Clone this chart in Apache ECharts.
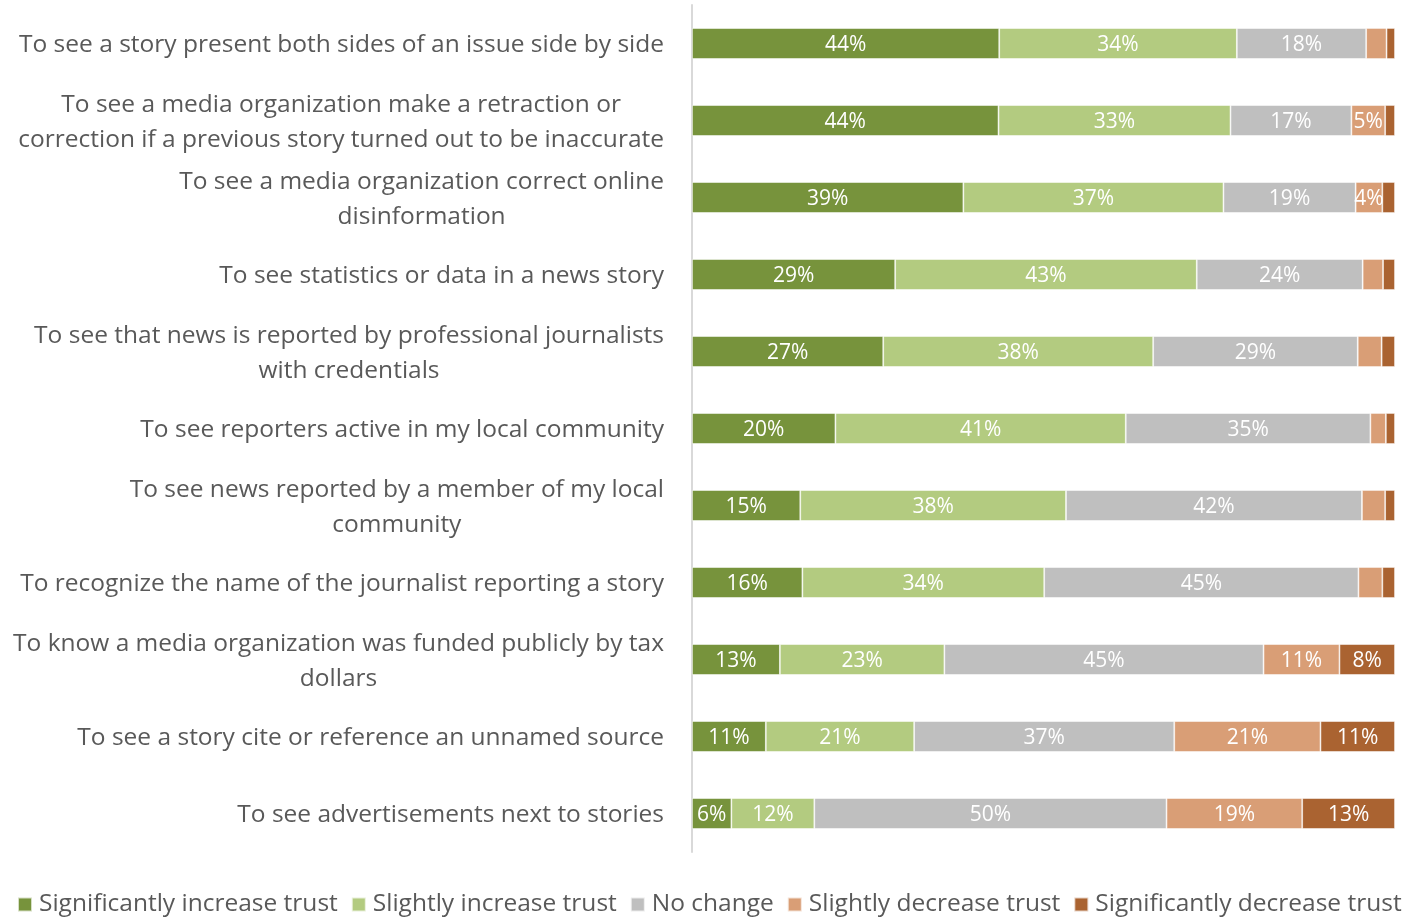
<!DOCTYPE html>
<html>
<head>
<meta charset="utf-8">
<script src="https://cdn.jsdelivr.net/npm/echarts@6/dist/echarts.min.js"></script>
<style>
  html, body { margin: 0; padding: 0; background: #fff; }
  #main { width: 1403px; height: 919px; }
</style>
</head>
<body>
<div id="main"></div>
<script>
var chartDom = document.getElementById('main');
var myChart = echarts.init(chartDom);

const categories = [
  'To see a story present both sides of an issue side by side',
  'To see a media organization make a retraction or\ncorrection if a previous story turned out to be inaccurate',
  'To see a media organization correct online\ndisinformation',
  'To see statistics or data in a news story',
  'To see that news is reported by professional journalists\nwith credentials',
  'To see reporters active in my local community',
  'To see news reported by a member of my local\ncommunity',
  'To recognize the name of the journalist reporting a story',
  'To know a media organization was funded publicly by tax\ndollars',
  'To see a story cite or reference an unnamed source',
  'To see advertisements next to stories'
];

const seriesNames = [
  'Significantly increase trust',
  'Slightly increase trust',
  'No change',
  'Slightly decrease trust',
  'Significantly decrease trust'
];

const sigIncrease = [43.7, 43.6, 38.6, 28.9, 27.2, 20.4, 15.4, 15.7, 12.5, 10.5, 5.6];
const slightIncrease = [33.8, 33.0, 37.0, 42.9, 38.4, 41.3, 37.8, 34.4, 23.4, 21.1, 11.8];
const noChange = [18.4, 17.2, 18.8, 23.6, 29.1, 34.8, 42.1, 44.7, 45.4, 37.0, 50.1];
const slightDecrease = [2.9, 4.8, 3.8, 2.9, 3.4, 2.2, 3.3, 3.4, 10.8, 20.8, 19.3];
const sigDecrease = [1.2, 1.4, 1.8, 1.7, 1.9, 1.3, 1.4, 1.8, 7.9, 10.6, 13.2];

const colors = ['#77933c', '#b3cb80', '#bfbfbf', '#d99e76', '#aa6331'];
const font = '"Open Sans", "Noto Sans", sans-serif';

function makeSeries(name, data, color) {
  return {
    name: name,
    type: 'bar',
    stack: 'total',
    barWidth: 31,
    data: data,
    itemStyle: { color: color, borderColor: 'rgba(255,255,255,0.7)', borderWidth: 0.8 },
    label: {
      show: true,
      position: 'inside',
      offset: [0, 2],
      color: '#ffffff',
      fontFamily: font,
      fontSize: 21,
      formatter: function (p) {
        const v = Math.round(p.value);
        return v >= 4 ? v + '%' : '';
      }
    }
  };
}

var option = {
  color: colors,
  animation: false,
  grid: { left: 692, right: 8, top: 5, height: 847, containLabel: false },
  xAxis: {
    type: 'value',
    min: 0,
    max: 100,
    show: false
  },
  yAxis: {
    type: 'category',
    inverse: true,
    data: categories,
    axisLine: { show: true, lineStyle: { color: '#d9d9d9', width: 2 } },
    axisTick: { show: false },
    axisLabel: {
      margin: 28,
      align: 'right',
      padding: [4, 0, 0, 0],
      fontFamily: font,
      fontSize: 24.5,
      color: '#595959',
      lineHeight: 35,
      formatter: function (value) {
        return value.split('\n').map(function (s) { return '{c|' + s + '}'; }).join('\n');
      },
      rich: {
        c: { align: 'center', fontFamily: font, fontSize: 24.5, color: '#595959', lineHeight: 35 }
      }
    }
  },
  legend: {
    left: 17,
    right: 0,
    top: 892,
    padding: 0,
    itemWidth: 14,
    itemHeight: 14,
    itemGap: 13,
    icon: 'rect',
    textStyle: { fontFamily: font, fontSize: 24.5, color: '#595959', padding: [0, 0, 0, 2] },
    data: seriesNames
  },
  series: [
    makeSeries(seriesNames[0], sigIncrease, colors[0]),
    makeSeries(seriesNames[1], slightIncrease, colors[1]),
    makeSeries(seriesNames[2], noChange, colors[2]),
    makeSeries(seriesNames[3], slightDecrease, colors[3]),
    makeSeries(seriesNames[4], sigDecrease, colors[4])
  ]
};

option && myChart.setOption(option);
</script>
</body>
</html>
